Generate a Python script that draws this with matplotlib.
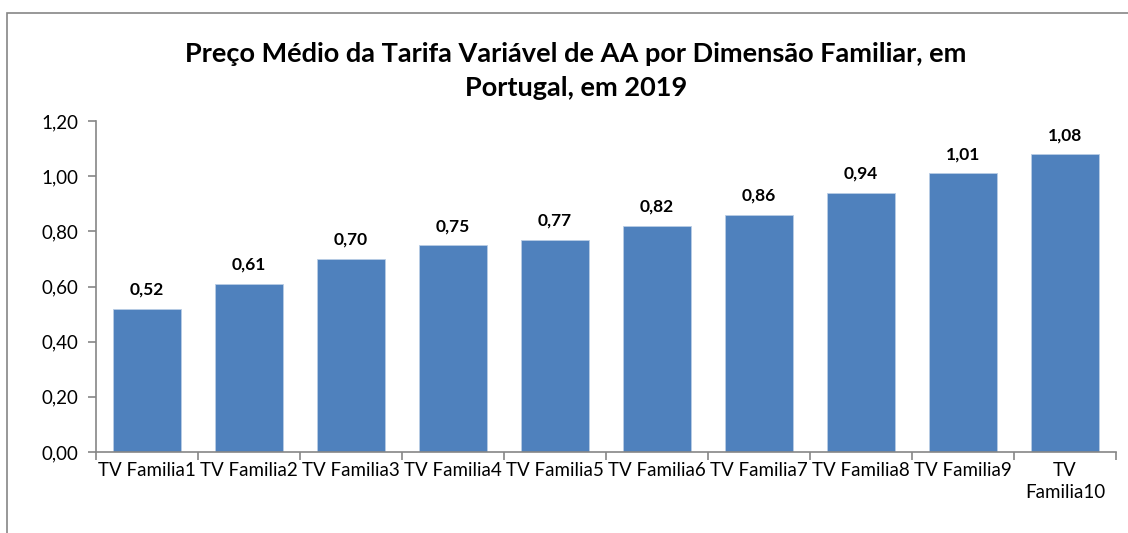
import numpy as np
import matplotlib
matplotlib.use("Agg")
import matplotlib.pyplot as plt
from matplotlib.patches import Rectangle

# data
categorias = ["TV Familia1", "TV Familia2", "TV Familia3", "TV Familia4", "TV Familia5",
              "TV Familia6", "TV Familia7", "TV Familia8", "TV Familia9", "TV\nFamilia10"]
precos = [0.52, 0.61, 0.70, 0.75, 0.77, 0.82, 0.86, 0.94, 1.01, 1.08]
y_ticks = [0.0, 0.2, 0.4, 0.6, 0.8, 1.0, 1.2]
titulo = "Preço Médio da Tarifa Variável de AA por Dimensão Familiar, em\nPortugal, em 2019"

plt.rcParams['font.family'] = ['Lato', 'DejaVu Sans']
BAR_COLOR = "#4F81BD"
AXIS_COLOR = "#868686"

fig = plt.figure(figsize=(11.28, 5.33), dpi=100)
W, H = 1128, 533

# outer chart border (Excel chart area), cut off on the right and bottom
fig.patches.append(Rectangle((7 / W, -0.01), 1.2, 1 - 13 / H + 0.01, transform=fig.transFigure,
                             fill=False, edgecolor=AXIS_COLOR, linewidth=1.2))

ax = fig.add_axes([96 / W, 1 - 452 / H, (1116 - 96) / W, (452 - 121) / H])

x = np.arange(len(categorias))
bars = ax.bar(x, precos, width=0.67, color=BAR_COLOR, edgecolor="#B9CDE5", linewidth=0.6)

for xi, v in zip(x, precos):
    ax.text(xi, v + 0.04, ("%.2f" % v).replace(".", ","), ha="center", va="bottom",
            fontsize=12.5, fontweight="bold")

ax.set_xlim(-0.5, len(categorias) - 0.5)
ax.set_ylim(0, 1.2)
ax.set_yticks(y_ticks)
ax.set_yticklabels([("%.2f" % t).replace(".", ",") for t in y_ticks], fontsize=13.5)

# category labels centred, tick marks on the boundaries
ax.set_xticks(x)
ax.set_xticklabels(categorias, fontsize=13.5, linespacing=1.35)
ax.tick_params(axis="x", which="major", length=0, pad=7)
ax.set_xticks(np.arange(-0.5, len(categorias)), minor=True)
ax.tick_params(axis="x", which="minor", length=6, color=AXIS_COLOR, width=1.2, direction="out")
ax.tick_params(axis="y", length=6, color=AXIS_COLOR, width=1.2, direction="out", pad=7)

for s in ["top", "right"]:
    ax.spines[s].set_visible(False)
for s in ["left", "bottom"]:
    ax.spines[s].set_color(AXIS_COLOR)
    ax.spines[s].set_linewidth(1.2)

fig.text(576 / W, 1 - 71 / H, titulo, ha="center", va="center", fontsize=19.5,
         fontweight="bold", linespacing=1.45)

plt.savefig("out.png", dpi=100)
